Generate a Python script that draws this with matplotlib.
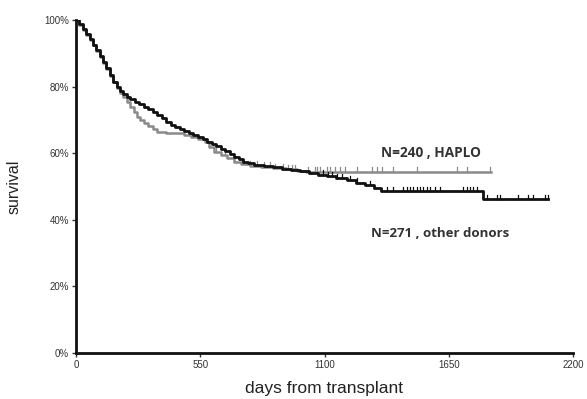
import matplotlib
matplotlib.use("Agg")
import matplotlib.pyplot as plt
import numpy as np

# Kaplan-Meier step knots (day, survival %)
other_days = [0, 15, 30, 45, 60, 75, 90, 105, 120, 135, 150, 165, 180, 195, 210, 225, 240, 260, 280,
              300, 320, 340, 360, 380, 400, 420, 440, 460, 480, 500, 520, 540, 560, 580, 600, 620,
              640, 660, 680, 700, 720, 740, 760, 790, 830, 870, 910, 950, 990, 1030, 1070, 1110,
              1150, 1200, 1240, 1280, 1320, 1350, 1800, 2090]
other_surv = [100, 98.8, 97.3, 95.8, 94.2, 92.6, 91, 89.3, 87.5, 85.6, 83.5, 81.5, 80, 78.8, 77.8,
              77, 76.3, 75.5, 74.8, 74, 73.2, 72.4, 71.6, 70.6, 69.5, 68.5, 67.8, 67.2, 66.6, 66,
              65.4, 64.8, 64.2, 63.5, 62.8, 62.1, 61.4, 60.6, 59.8, 59, 58.2, 57.5, 57, 56.6, 56.2,
              55.8, 55.4, 55, 54.6, 54.1, 53.6, 53.1, 52.6, 51.9, 51.2, 50.4, 49.6, 48.7, 46.1, 46.1]
other_censor = [1094, 1116, 1133, 1155, 1178, 1213, 1244, 1302, 1376, 1403, 1448, 1465, 1478, 1491,
                1509, 1523, 1536, 1554, 1567, 1589, 1611, 1713, 1730, 1744, 1757, 1775, 1820, 1863,
                1877, 1957, 2001, 2023, 2076, 2090]

haplo_days = [0, 15, 30, 45, 60, 75, 90, 105, 120, 135, 150, 165, 180, 195, 210, 225, 240, 255, 270,
              285, 300, 320, 340, 360, 400, 450, 480, 510, 540, 570, 590, 610, 640, 670, 700, 730,
              770, 820, 870, 930, 980, 1020, 1836]
haplo_surv = [100, 98.6, 97.1, 95.6, 94, 92.4, 90.6, 89, 87.2, 85.2, 83.3, 81.3, 79.5, 78, 76.8,
              75.3, 73.8, 72.3, 71, 70, 69.2, 68.2, 67.2, 66.5, 66.2, 66, 65.6, 65, 64.3, 63.3,
              61.8, 60.3, 59.5, 58.5, 57.5, 56.8, 56.3, 56, 55.6, 55.2, 54.8, 54.5, 54.5]
haplo_censor = [620, 660, 700, 740, 770, 800, 830, 860, 880, 916, 938, 956, 969, 1027, 1058, 1067,
                1080, 1111, 1124, 1146, 1169, 1191, 1244, 1310, 1332, 1354, 1403, 1509, 1686, 1730, 1833]

x_ticks = [0, 550, 1100, 1650, 2200]
y_ticks = [0, 20, 40, 60, 80, 100]
y_labels = ["0%", "20%", "40%", "60%", "80%", "100%"]

plt.rcParams['font.family'] = ['Liberation Sans', 'DejaVu Sans']

fig = plt.figure(figsize=(5.87, 3.99), dpi=100)
ax = fig.add_axes([76/587, 46/399, (573-76)/587, (353-20)/399])


def surv_at(days, surv, t):
    idx = np.searchsorted(np.array(days), t, side='right') - 1
    return surv[max(idx, 0)]


for days, surv, cens, col, lw in [(haplo_days, haplo_surv, haplo_censor, '#8a8a8a', 1.8),
                                  (other_days, other_surv, other_censor, '#111111', 2.0)]:
    ax.step(days, surv, where='post', color=col, lw=lw, zorder=3)
    for t in cens:
        s = surv_at(days, surv, t)
        ax.plot([t, t], [s, s + 1.3], color=col, lw=0.9, zorder=3)

ax.set_xlim(0, 2200)
ax.set_ylim(0, 100)
ax.set_xticks(x_ticks)
ax.set_xticklabels([str(v) for v in x_ticks])
ax.set_yticks(y_ticks)
ax.set_yticklabels(y_labels)
ax.tick_params(axis='both', labelsize=7, length=3, width=1, color='#333333', labelcolor='#333333', pad=2)

for sp in ['top', 'right']:
    ax.spines[sp].set_visible(False)
for sp in ['left', 'bottom']:
    ax.spines[sp].set_linewidth(2)
    ax.spines[sp].set_color('#111111')

fig.text(14/587, 1 - 187/399, 'survival', rotation=90, ha='center', va='center', fontsize=11.5, color='#222222')
fig.text(324/587, 1 - 389/399, 'days from transplant', ha='center', va='center', fontsize=12.5, color='#222222')

ax.text(1572, 60.2, 'N=240 , HAPLO', ha='center', va='center', fontsize=9.8, fontweight='bold',
        color='#333333', family=['Open Sans', 'DejaVu Sans'])
ax.text(1612, 36, 'N=271 , other donors', ha='center', va='center', fontsize=9.5, fontweight='bold',
        color='#333333', family=['Open Sans', 'DejaVu Sans'])

fig.savefig('out.png', dpi=100)
